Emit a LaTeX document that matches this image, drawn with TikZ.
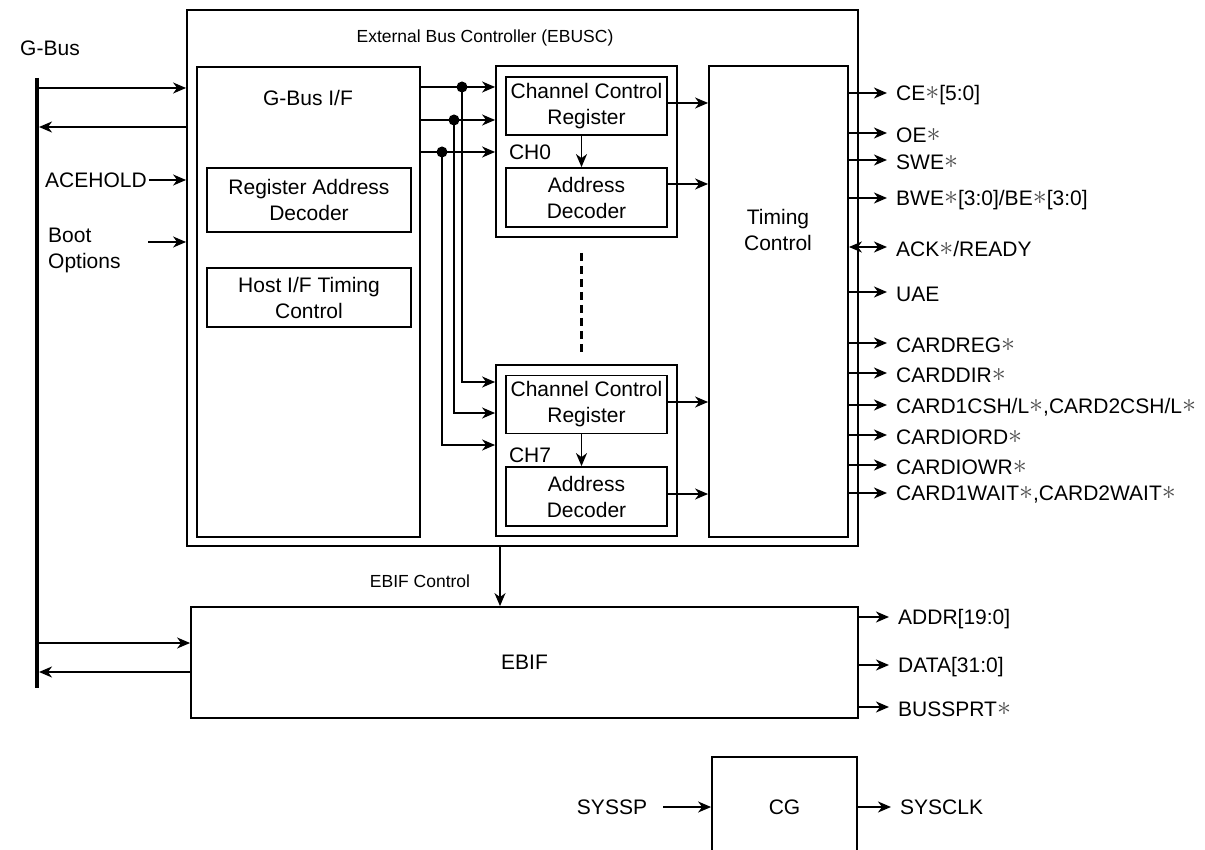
\documentclass[tikz,border=0pt]{standalone}
\usepackage{fontspec}
\setmainfont{Liberation Sans}
\usetikzlibrary{arrows.meta, positioning}
\newcommand{\st}{\raisebox{0.05em}{\textcolor{black!70}{\scalebox{1.35}{$\ast$}}}}

\begin{document}
\begin{tikzpicture}[x=1pt, y=-1pt,
    box/.style={rectangle, draw, line width=1.8pt, inner sep=0pt, align=center,
                font=\fontsize{21}{26}\selectfont},
    txt/.style={inner sep=2pt, align=center, font=\fontsize{21}{26}\selectfont},
    small/.style={inner sep=2pt, font=\fontsize{17.5}{21}\selectfont},
    sig/.style={anchor=west, inner ysep=0pt, inner xsep=9pt, font=\fontsize{21}{26}\selectfont},
    arrow/.style={-{Stealth[length=13pt, width=11pt, inset=4pt]}, line width=1.8pt},
    both/.style={{Stealth[length=13pt, width=11pt, inset=4pt]}-{Stealth[length=13pt, width=11pt, inset=4pt]},
                 line width=1.8pt},
    bus/.style={line width=4.5pt},
    dot/.style={circle, fill, inner sep=0pt, minimum size=11pt}
  ]
    \useasboundingbox (0,0) rectangle (1205,850);

    % Controller and its blocks
    \node[box, minimum width=671pt, minimum height=536pt] (ebusc) at (522.5,278) {};
    \node[small] (ebusctitle) at (485,38) {External Bus Controller (EBUSC)};

    \node[box, minimum width=223pt, minimum height=470pt] (gbusif) at (308.5,302) {};
    \node[txt] (gbusiftitle) at (308,98) {G-Bus I/F};
    \node[box, minimum width=204pt, minimum height=64pt] (regdec) at (309,200) {Register Address\\Decoder};
    \node[box, minimum width=204pt, minimum height=59pt] (hosttc) at (309,297.5) {Host I/F Timing\\Control};

    \node[box, minimum width=181pt, minimum height=171pt] (ch0) at (586.5,151.5) {};
    \node[box, minimum width=161pt, minimum height=58pt] (ccr0) at (586.5,106) {Channel Control\\Register};
    \node[box, minimum width=161pt, minimum height=59pt] (ad0) at (586.5,197.5) {Address\\Decoder};
    \node[txt] (ch0lbl) at (530,152) {CH0};

    \node[box, minimum width=181pt, minimum height=171pt] (ch7) at (586.5,450.5) {};
    \node[box, minimum width=161pt, minimum height=58pt] (ccr7) at (586.5,404.5) {Channel Control\\Register};
    \node[box, minimum width=161pt, minimum height=59pt] (ad7) at (586.5,496.5) {Address\\Decoder};
    \node[txt] (ch7lbl) at (530,455) {CH7};

    \node[box, minimum width=139pt, minimum height=471pt] (timing) at (778.5,301.5) {};
    \node[txt] (timinglbl) at (778,230) {Timing\\Control};

    % EBIF and CG
    \node[box, minimum width=667pt, minimum height=111pt] (ebif) at (524.5,662.5) {EBIF};
    \node[small] (ebifctl) at (420,581) {EBIF Control};
    \node[box, minimum width=145pt, minimum height=100pt] (cg) at (784.5,807) {CG};

    % G-Bus
    \coordinate (bustop) at (37,78);
    \coordinate (busbot) at (37,688);
    \draw[bus] (bustop) -- (busbot);
    \node[txt] (gbuslbl) at (50,48) {G-Bus};

    \draw[arrow] (bustop |- 0,88) -- (ebusc.west |- 0,88);
    \draw[arrow, shorten >=2pt] (ebusc.west |- 0,127) -- (bustop |- 0,127);
    \node[txt, anchor=west] (acehold) at (43,180) {ACEHOLD};
    \draw[arrow] (acehold.east) -- (ebusc.west |- acehold.east);
    \node[txt, anchor=west, align=left] (boot) at (46,250) {Boot\\Options};
    \coordinate (bootin) at (148,242);
    \draw[arrow] (bootin) -- (ebusc.west |- bootin);

    \draw[arrow] (busbot |- 0,643) -- (ebif.west |- 0,643);
    \draw[arrow, shorten >=2pt] (ebif.west |- 0,672) -- (busbot |- 0,672);

    % G-Bus I/F to channels
    \foreach \y/\x/\yy in {87/462/382, 120/454/413, 152/442/445} {
      \draw[arrow] (gbusif.east |- 0,\y) -- (ch0.west |- 0,\y);
      \draw[arrow] (\x,\y) |- (ch7.west |- 0,\yy);
      \node[dot] at (\x,\y) {};
    }

    % Inside channels
    \draw[arrow] ([xshift=-5pt]ccr0.south) -- ([xshift=-5pt]ad0.north);
    \draw[arrow] ([xshift=-5pt]ccr7.south) -- ([xshift=-5pt]ad7.north);
    \draw[line width=2.6pt, dash pattern=on 8pt off 5pt, shorten <=15pt, shorten >=12pt]
      ([xshift=-5pt]ch0.south) -- ([xshift=-5pt]ch7.north);

    \draw[arrow] (ccr0.east |- 0,103) -- (timing.west |- 0,103);
    \draw[arrow] (ad0.east |- 0,184) -- (timing.west |- 0,184);
    \draw[arrow] (ccr7.east |- 0,402) -- (timing.west |- 0,402);
    \draw[arrow] (ad7.east |- 0,494) -- (timing.west |- 0,494);

    % Timing outputs
    \foreach \y/\name [count=\i] in {93/{CE\st[5:0]}, 133/{OE\st}, 160/{SWE\st},
        198/{BWE\st[3:0]/BE\st[3:0]}, 292/{UAE}, 343/{CARDREG\st}, 373/{CARDDIR\st},
        405/{CARD1CSH/L\st,CARD2CSH/L\st}, 435/{CARDIORD\st}, 465/{CARDIOWR\st},
        493/{CARD1WAIT\st,CARD2WAIT\st}} {
      \node[sig] (out\i) at (887,\y+2) {\name};
      \draw[arrow] (timing.east |- 0,\y) -- (out\i.west |- 0,\y);
    }
    \node[sig] (ack) at (887,249) {ACK\st/READY};
    \draw[both] (timing.east |- 0,247) -- (ack.west |- 0,247);

    % EBIF
    \draw[arrow] (ebusc.south -| 500,0) -- (ebif.north -| 500,0);
    \foreach \y/\name [count=\i] in {617/{ADDR[19:0]}, 665/{DATA[31:0]}, 707/{BUSSPRT\st}} {
      \node[sig] (ebifout\i) at (889,\y+2) {\name};
      \draw[arrow] (ebif.east |- 0,\y) -- (ebifout\i.west |- 0,\y);
    }

    % Clock generator
    \node[txt] (syssp) at (612,807) {SYSSP};
    \draw[arrow] ([xshift=14pt]syssp.east) -- (cg.west);
    \node[sig] (sysclk) at (891,807) {SYSCLK};
    \draw[arrow] (cg.east) -- (sysclk.west);
  \end{tikzpicture}
\end{document}
